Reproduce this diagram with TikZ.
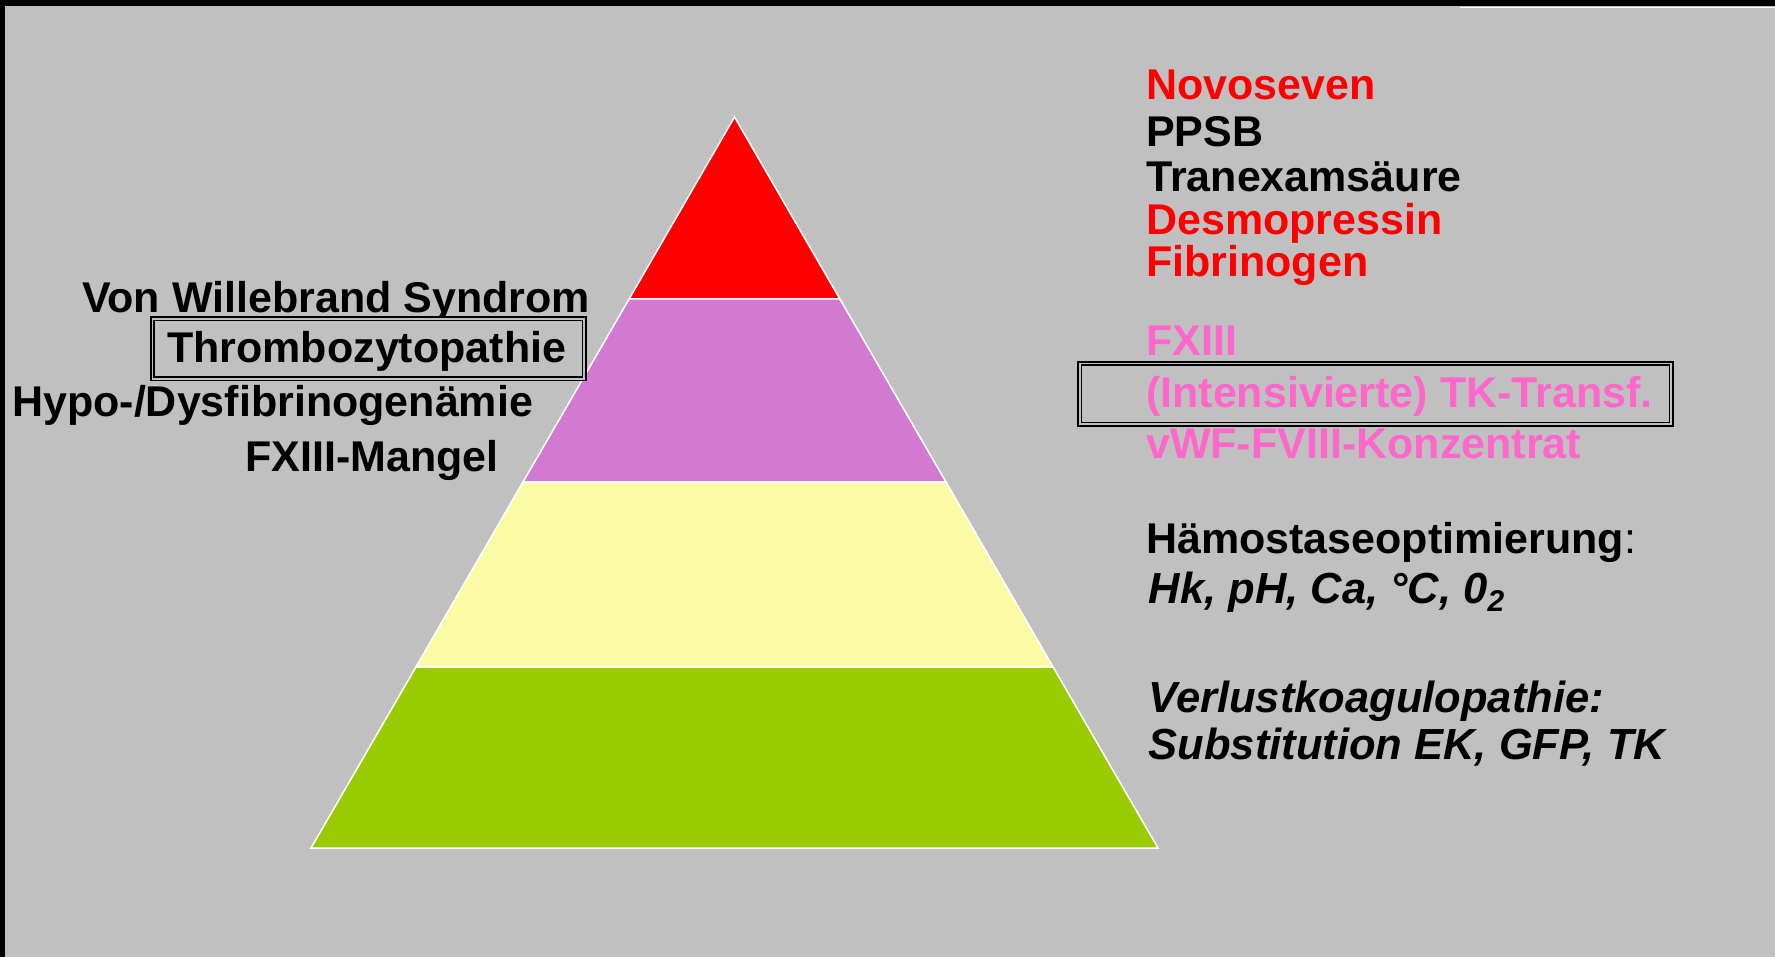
\documentclass[tikz,border=0pt]{standalone}
\usepackage{fontspec}
\setmainfont{Liberation Sans}
\definecolor{bg}{HTML}{C0C0C0}
\definecolor{bandred}{HTML}{FF0000}
\definecolor{bandpurple}{HTML}{D27AD2}
\definecolor{bandyellow}{HTML}{FBFAA5}
\definecolor{bandgreen}{HTML}{99CC00}
\definecolor{pinktxt}{HTML}{FF66CC}
\definecolor{redtxt}{HTML}{FF0000}
\begin{document}
\begin{tikzpicture}[x=1pt,y=-1pt,
  lbl/.style={anchor=base west, inner sep=0pt, font=\fontsize{43}{50}\selectfont\bfseries},
  ilbl/.style={lbl, font=\fontsize{43.5}{50}\selectfont\bfseries\itshape},
  band/.style={draw=white, line width=1.5pt, line join=miter},
  dbox/.style={draw=black, line width=1.7pt, double=bg, double distance=1.6pt}]
% canvas
\fill[bg] (0,0) rectangle (1775,957);
\useasboundingbox (0,0) rectangle (1775,957);
\fill[black] (0,0) rectangle (1775,6);
\fill[black] (0,0) rectangle (5,957);
\draw[white, line width=1.2pt] (1460,7.5) -- (1775,7.5);
% pyramid
\coordinate (apex) at (734.5,117);
\coordinate (l1) at (629.1,299);  \coordinate (r1) at (839.9,299);
\coordinate (l2) at (523.0,482);  \coordinate (r2) at (946.0,482);
\coordinate (l3) at (415.9,667);  \coordinate (r3) at (1053.1,667);
\coordinate (l4) at (311,848);    \coordinate (r4) at (1158,848);
\filldraw[band, fill=bandred] (apex) -- (r1) -- (l1) -- cycle;
\filldraw[band, fill=bandpurple] (l1) -- (r1) -- (r2) -- (l2) -- cycle;
\filldraw[band, fill=bandyellow] (l2) -- (r2) -- (r3) -- (l3) -- cycle;
\filldraw[band, fill=bandgreen] (l3) -- (r3) -- (r4) -- (l4) -- cycle;
% left texts
\node[lbl] (vws) at (82,312.7) {Von Willebrand Syndrom};
\draw[dbox] (152.5,319) rectangle (584,379);
\node[lbl] (thromb) at (167,362.7) {Thrombozytopathie};
\node[lbl] (hypo) at (12,416.7) {Hypo-/Dysfibrinogenämie};
\node[lbl] (fxm) at (245,471.7) {FXIII-Mangel};
% right texts
\node[lbl, text=redtxt] (novo) at (1146,100) {Novoseven};
\node[lbl] (ppsb) at (1146,147) {PPSB};
\node[lbl] (tran) at (1146,192) {Tranexamsäure};
\node[lbl, text=redtxt] (desmo) at (1146,235) {Desmopressin};
\node[lbl, text=redtxt] (fibr) at (1146,277) {Fibrinogen};
\node[lbl, text=pinktxt] (fxiii) at (1146,356) {FXIII};
\draw[dbox] (1079.7,363.7) rectangle (1671,424);
\node[lbl, text=pinktxt] (tk) at (1146,407.5) {(Intensivierte) TK-Transf.};
\node[lbl, text=pinktxt] (vwf) at (1146,458) {vWF-FVIII-Konzentrat};
\node[lbl] (haemo) at (1146,553) {Hämostaseoptimierung{\mdseries :}};
\node[ilbl] (hk) at (1148.5,603.5) {Hk, pH, Ca, °C, 0\raisebox{-8pt}{\fontsize{30}{30}\selectfont 2}};
\node[ilbl] (verl) at (1148.5,712) {Verlustkoagulopathie:};
\node[ilbl] (subst) at (1148.5,759.5) {Substitution EK, GFP, TK};
\end{tikzpicture}
\end{document}
